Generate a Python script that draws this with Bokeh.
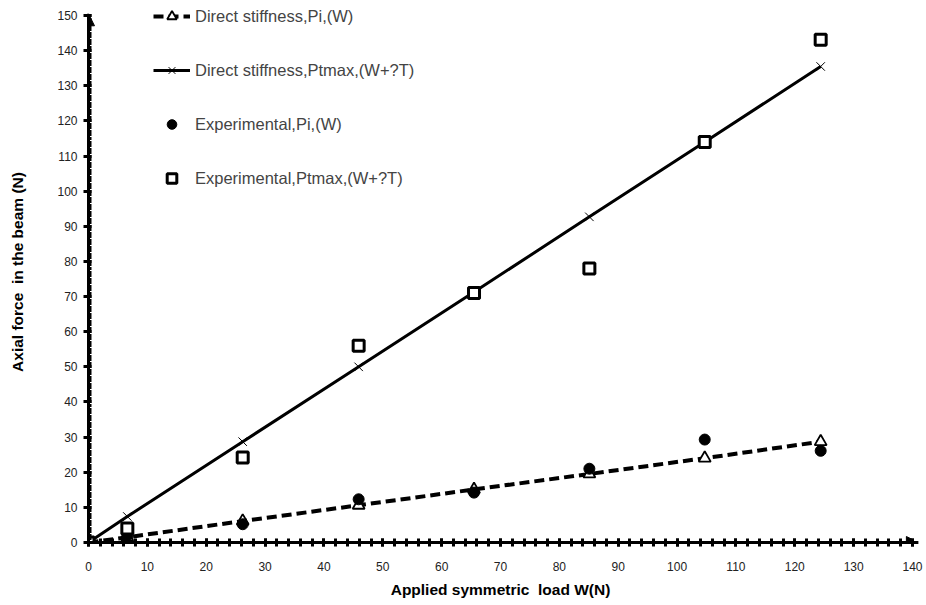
from bokeh.plotting import figure
from bokeh.models import (Range1d, SingleIntervalTicker, Legend, LegendItem,
                          Arrow, NormalHead, ColumnDataSource)
from bokeh.embed import file_html
from bokeh.resources import INLINE

# Data
loads = [0, 6.6, 26.2, 45.9, 65.5, 85.1, 104.7, 124.4]
direct_pi = [0, 1.5, 6.1, 10.6, 15.1, 19.5, 24.0, 28.7]
direct_ptmax = [0, 7.4, 28.7, 50.0, 71.3, 92.7, 114.0, 135.5]
exp_pi = [0, 2.0, 5.2, 12.3, 14.2, 21.0, 29.3, 26.1]
exp_ptmax = [0, 4.0, 24.2, 56.0, 71.0, 78.0, 114.0, 143.1]

x_label = "Applied symmetric\u00a0 load W(N)"
y_label = "Axial force\u00a0 in the beam (N)"
labels = ["Direct stiffness,Pi,(W)", "Direct stiffness,Ptmax,(W+?T)",
          "Experimental,Pi,(W)", "Experimental,Ptmax,(W+?T)"]

FONT = "Liberation Sans"

p = figure(width=926, height=600, output_backend="svg", toolbar_location=None,
           x_range=Range1d(0, 140), y_range=Range1d(0, 154),
           min_border_left=88, min_border_right=14, min_border_top=1,
           min_border_bottom=56)
p.outline_line_color = None
p.xgrid.visible = False
p.ygrid.visible = False

src = ColumnDataSource(dict(x=loads, dpi=direct_pi, dpt=direct_ptmax,
                            epi=exp_pi, ept=exp_ptmax))

l1 = p.line("x", "dpi", source=src, line_color="black", line_width=4,
            line_dash="10 5")
m1 = p.scatter("x", "dpi", source=src, marker="triangle", size=12,
               fill_color="white", line_color="black", line_width=1.8)
l2 = p.line("x", "dpt", source=src, line_color="black", line_width=3)
m2 = p.scatter("x", "dpt", source=src, marker="x", size=12,
               line_color="black", line_width=1)
m3 = p.scatter("x", "epi", source=src, marker="circle", size=11,
               fill_color="black", line_color="black")
m4 = p.scatter("x", "ept", source=src, marker="square", size=11,
               fill_color="white", line_color="black", line_width=3)

# axes
for ax in (p.xaxis[0], p.yaxis[0]):
    ax.axis_line_width = 3
    ax.axis_line_color = "black"
    ax.major_tick_line_width = 3
    ax.minor_tick_line_width = 3
    ax.major_tick_line_color = "black"
    ax.minor_tick_line_color = "black"
    ax.major_label_text_font = FONT
    ax.major_label_text_font_size = "12px"
    ax.major_label_text_color = "#222222"
    ax.axis_label_text_font = FONT
    ax.axis_label_text_font_size = "15.5px"
    ax.axis_label_text_font_style = "bold"
    ax.axis_label_text_color = "black"

p.xaxis.ticker = SingleIntervalTicker(interval=10, num_minor_ticks=5)
p.yaxis.ticker = SingleIntervalTicker(interval=10, num_minor_ticks=10)
p.xaxis.bounds = (0, 140)
p.yaxis.bounds = (0, 150)
p.xaxis.major_tick_in = 4
p.xaxis.major_tick_out = 4
p.xaxis.minor_tick_in = 4
p.xaxis.minor_tick_out = 4
p.yaxis.major_tick_in = 3
p.yaxis.major_tick_out = 5
p.yaxis.minor_tick_in = 3
p.yaxis.minor_tick_out = 0
p.xaxis.major_label_standoff = 15
p.yaxis.major_label_standoff = 6
p.xaxis.axis_label = x_label
p.yaxis.axis_label = y_label
p.xaxis.axis_label_standoff = 7
p.yaxis.axis_label_standoff = 28

# arrow heads on axes
p.add_layout(Arrow(end=NormalHead(size=12, fill_color="black", line_color="black"),
                   x_start=0, y_start=0, x_end=141, y_end=0,
                   line_width=3, line_color="black"))
p.add_layout(Arrow(end=NormalHead(size=12, fill_color="black", line_color="black"),
                   x_start=0, y_start=0, x_end=0, y_end=150.5,
                   line_width=3, line_color="black"))

legend = Legend(items=[
    LegendItem(label=labels[0], renderers=[l1, m1]),
    LegendItem(label=labels[1], renderers=[l2, m2]),
    LegendItem(label=labels[2], renderers=[m3]),
    LegendItem(label=labels[3], renderers=[m4]),
], location=(65, 352), glyph_width=37, glyph_height=24, label_height=24,
    spacing=30, padding=0, margin=0, label_standoff=5,
    label_text_font=FONT, label_text_font_size="16.5px",
    border_line_alpha=0, background_fill_alpha=0)
p.add_layout(legend)

open("out.html", "w").write(file_html(p, INLINE))
